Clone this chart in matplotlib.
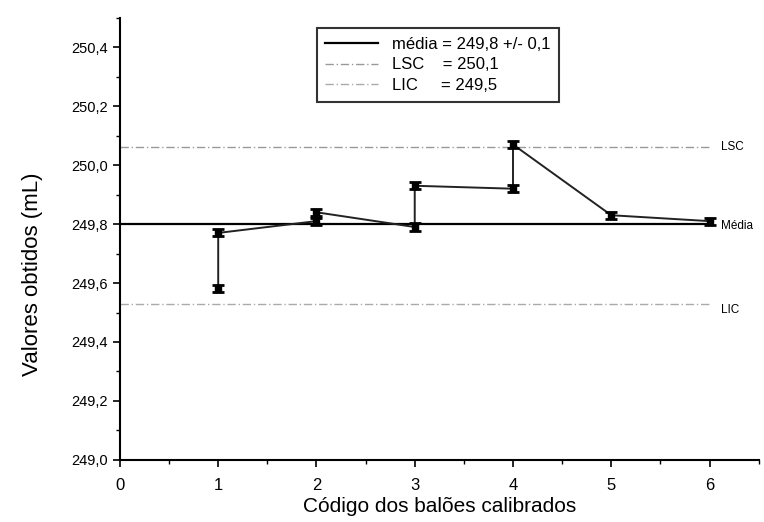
import matplotlib
matplotlib.use("Agg")
import matplotlib.pyplot as plt
from matplotlib.ticker import MultipleLocator, FuncFormatter

plt.rcParams['font.family'] = ['Liberation Sans', 'DejaVu Sans']

# pontos medidos (dois por balao em alguns casos), na ordem em que a linha passa
x = [1, 1, 2, 2, 3, 3, 4, 4, 5, 6]
y = [249.58, 249.77, 249.81, 249.84, 249.79, 249.93, 249.92, 250.07, 249.83, 249.81]
err = [0.012] * len(x)

media = 249.80
lsc = 250.06
lic = 249.53
x_lim = [0, 6]

fig = plt.figure(figsize=(7.64, 5.22), dpi=100)
ax = fig.add_axes([0.157, 0.119, 0.836, 0.847])

ax.plot(x_lim, [media, media], color='black', lw=1.6, label='média = 249,8 +/- 0,1')
ax.plot(x_lim, [lsc, lsc], color='#999999', lw=1.0, ls=(0, (6, 2, 1, 2)), label='LSC    = 250,1')
ax.plot(x_lim, [lic, lic], color='#aaaaaa', lw=1.0, ls=(0, (6, 2, 1, 2)), label='LIC     = 249,5')

ax.plot(x, y, color='#222222', lw=1.4)
ax.errorbar(x, y, yerr=err, fmt='s', color='black', ms=5, capsize=4, elinewidth=2.5, capthick=2)

ax.text(6.12, lsc, 'LSC', fontsize=8.5, va='center')
ax.text(6.12, media - 0.005, 'Média', fontsize=8.5, va='center')
ax.text(6.12, lic - 0.02, 'LIC', fontsize=8.5, va='center')

ax.set_xlim(0, 6.5)
ax.set_ylim(249.0, 250.5)
ax.xaxis.set_major_locator(MultipleLocator(1))
ax.xaxis.set_minor_locator(MultipleLocator(0.5))
ax.yaxis.set_major_locator(MultipleLocator(0.2))
ax.yaxis.set_minor_locator(MultipleLocator(0.1))
ax.yaxis.set_major_formatter(FuncFormatter(lambda v, p: f"{v:.1f}".replace('.', ',')))
ax.tick_params(which='major', length=5, width=1.2, labelsize=10.5)
ax.tick_params(axis='x', which='major', labelsize=12, pad=8)
ax.tick_params(which='minor', length=3, width=1.0)

ax.spines['top'].set_visible(False)
ax.spines['right'].set_visible(False)
ax.spines['left'].set_linewidth(1.5)
ax.spines['bottom'].set_linewidth(1.5)

ax.set_xlabel('Código dos balões calibrados', fontsize=15)
ax.set_ylabel('Valores obtidos (mL)', fontsize=16)
ax.xaxis.set_label_coords(0.5, -0.085)
ax.yaxis.set_label_coords(-0.12, 0.42)

leg = ax.legend(loc='upper left', bbox_to_anchor=(0.295, 0.995), fontsize=12,
                frameon=True, fancybox=False, edgecolor='black', handlelength=3.2,
                labelspacing=0.35, borderpad=0.5)
leg.get_frame().set_linewidth(1.5)

fig.savefig('out.png', dpi=100)
